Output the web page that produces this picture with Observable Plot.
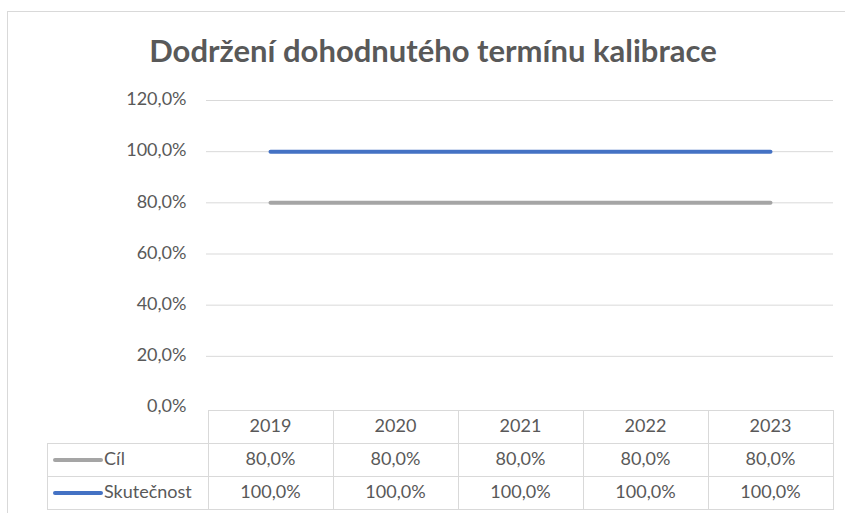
<!DOCTYPE html>
<html>
<head>
<meta charset="utf-8">
<script src="https://cdn.jsdelivr.net/npm/d3@7"></script>
<script src="https://cdn.jsdelivr.net/npm/@observablehq/plot@0.6"></script>
<style>
  html, body { margin: 0; padding: 0; background: #fff; width: 845px; height: 513px; overflow: hidden; }
  body { position: relative; font-family: "Lato", "Open Sans", sans-serif; color: #595959; }
  #frame { position: absolute; left: 7px; top: 11px; width: 900px; height: 600px; border-left: 1px solid #d9d9d9; border-top: 1px solid #d9d9d9; }
  #title { position: absolute; left: 0; width: 866px; top: 35px; text-align: center; font-size: 31px; font-weight: bold; line-height: 1; color: #595959; }
  #chart { position: absolute; left: 0; top: 0; }
  #tbl { position: absolute; border-collapse: collapse; table-layout: fixed; font-size: 18px; color: #595959; }
  #tbl td { border: 1px solid #d9d9d9; text-align: center; padding: 0 0 4px 0; height: 28px; white-space: nowrap; }
  #tbl td.hdr { text-align: left; }
  #tbl td.blank { border-top: none; border-left: none; }
  .sw { display: inline-block; width: 50px; height: 4px; border-radius: 2px; vertical-align: middle; margin-left: 5px; margin-right: 1px; }
</style>
</head>
<body>
<div id="frame"></div>
<div id="title">Dodržení dohodnutého termínu kalibrace</div>
<div id="chart"></div>
<script>
const years = [2019, 2020, 2021, 2022, 2023];
const cil = [80, 80, 80, 80, 80];
const skutecnost = [100, 100, 100, 100, 100];
const seriesNames = ["Cíl", "Skutečnost"];
const seriesColors = ["#A5A5A5", "#4472C4"];
const yTicks = [0, 20, 40, 60, 80, 100, 120];

const seriesValues = [cil, skutecnost];
const data = [];
seriesNames.forEach((s, i) => years.forEach((y, j) => data.push({series: s, year: y, value: seriesValues[i][j]})));

const fmt = d => d.toFixed(1).replace(".", ",") + "%";

const plot = Plot.plot({
  width: 845,
  height: 425,
  marginLeft: 206,
  marginRight: 12,
  marginTop: 100,
  marginBottom: 18,
  style: {fontFamily: "Lato, 'Open Sans', sans-serif", fontSize: "18px", color: "#595959", background: "transparent"},
  x: {type: "point", domain: years, padding: 0.5, axis: null},
  y: {domain: [0, 120]},
  color: {domain: seriesNames, range: seriesColors},
  marks: [
    Plot.ruleY(yTicks.filter(d => d > 0), {stroke: "#d9d9d9", strokeWidth: 1}),
    Plot.axisY({ticks: yTicks, tickSize: 0, tickPadding: 20, tickFormat: fmt, label: null, dy: -1}),
    Plot.lineY(data, {x: "year", y: "value", stroke: "series", z: "series", strokeWidth: 4, strokeLinecap: "round"})
  ]
});
document.getElementById("chart").appendChild(plot);

// data table below the plot, aligned to the x scale
const xs = plot.scale("x");
const step = xs.apply(years[1]) - xs.apply(years[0]);
const firstLeft = xs.apply(years[0]) - step / 2;
const tableLeft = 47;
const tbl = document.createElement("table");
tbl.id = "tbl";
tbl.style.left = tableLeft + "px";
tbl.style.top = "410px";
tbl.style.width = (firstLeft - tableLeft + step * years.length) + "px";
const cg = document.createElement("colgroup");
const c0 = document.createElement("col"); c0.style.width = (firstLeft - tableLeft) + "px"; cg.appendChild(c0);
years.forEach(() => { const c = document.createElement("col"); c.style.width = step + "px"; cg.appendChild(c); });
tbl.appendChild(cg);
const hr = document.createElement("tr");
const blank = document.createElement("td"); blank.className = "blank"; blank.style.borderBottom = "1px solid #d9d9d9"; hr.appendChild(blank);
years.forEach(y => { const td = document.createElement("td"); td.textContent = y; hr.appendChild(td); });
tbl.appendChild(hr);
seriesNames.forEach((s, i) => {
  const tr = document.createElement("tr");
  const th = document.createElement("td"); th.className = "hdr";
  const sw = document.createElement("span"); sw.className = "sw"; sw.style.background = seriesColors[i];
  th.appendChild(sw); th.appendChild(document.createTextNode(s));
  tr.appendChild(th);
  seriesValues[i].forEach(v => { const td = document.createElement("td"); td.textContent = fmt(v); tr.appendChild(td); });
  tbl.appendChild(tr);
});
document.body.appendChild(tbl);
</script>
</body>
</html>
